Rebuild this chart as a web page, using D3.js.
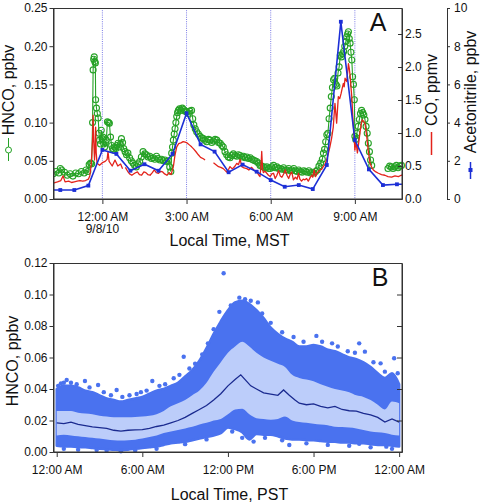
<!DOCTYPE html>
<html><head><meta charset="utf-8">
<script src="https://cdn.jsdelivr.net/npm/d3@7"></script>
<style>
body{margin:0;background:#fff}
svg{display:block}
text{font-family:"Liberation Sans",Arial,Helvetica,sans-serif;fill:#111}
</style></head><body>
<svg id="c" width="482" height="504"></svg>
<script>
// ---------------- Panel A data (hours relative to 12:00 AM 9/8/10, MST) ----------------
const topTickHours = [0, 3, 6, 9];
const topTickLabels = ["12:00 AM", "3:00 AM", "6:00 AM", "9:00 AM"];
const topSubLabel = "9/8/10";
const hncoTicks = [0, 0.05, 0.10, 0.15, 0.20, 0.25];
const coTicks = [0, 0.5, 1.0, 1.5, 2.0, 2.5];
const acnTicks = [0, 2, 4, 6, 8, 10];

// HNCO (ppbv), null = gap
const hncoHours = [-1.75,-1.65,-1.55,-1.5,-1.45,-1.35,-1.25,-1.15,-1.05,-0.95,-0.85,-0.75,-0.65,-0.58,-0.52,-0.47,-0.42,-0.38,-0.35,-0.33,-0.31,-0.29,-0.27,-0.25,-0.24,-0.21,-0.18,-0.15,-0.12,-0.10,-0.07,-0.04,-0.01,0.02,0.05,0.08,0.11,0.14,0.18,0.22,0.25,0.29,0.33,0.36,0.40,0.44,0.48,0.52,0.56,0.60,0.64,0.68,0.72,0.76,0.81,0.86,0.91,0.97,1.03,1.09,1.15,1.21,1.27,1.33,1.39,1.45,1.51,1.57,1.63,1.69,1.75,1.81,1.87,1.93,1.99,2.05,2.11,2.17,2.23,2.29,2.35,2.40,2.44,2.47,2.50,2.53,2.56,2.59,2.62,2.65,2.68,2.71,2.75,2.80,2.85,2.90,2.95,3.01,3.06,3.12,3.18,3.22,3.26,3.31,3.36,3.42,3.48,3.54,3.60,3.66,3.72,3.78,3.84,3.90,3.96,4.02,4.08,4.14,4.20,4.26,4.31,4.37,4.43,4.49,4.55,4.61,4.67,4.73,4.79,4.85,4.91,4.97,5.03,5.09,5.15,5.21,5.27,5.33,5.38,5.44,5.50,5.56,5.62,5.68,5.74,5.80,5.86,5.92,5.98,6.04,6.10,6.16,6.22,6.28,6.34,6.40,6.46,6.52,6.58,6.64,6.70,6.76,6.82,6.88,6.94,7.00,7.06,7.12,7.18,7.24,7.30,7.36,7.42,7.48,7.54,7.60,7.66,7.72,7.78,7.84,7.88,7.92,7.96,8.00,8.04,8.08,8.12,8.16,8.20,8.24,8.28,8.32,8.36,8.40,8.44,8.48,8.52,8.56,8.60,8.64,8.68,8.71,8.74,8.77,8.80,8.83,8.86,8.89,8.92,8.95,8.98,9.00,9.03,9.07,9.12,9.16,9.20,9.24,9.28,9.32,9.36,9.40,9.44,9.48,9.52,9.56,9.60,9.90,10.18,10.24,10.30,10.36,10.42,10.48,10.54,10.60,10.66];
const hncoVals = [0.033,0.036,0.034,0.040,0.038,0.035,0.031,0.033,0.030,0.034,0.033,0.036,0.034,0.038,0.036,0.045,0.047,0.046,0.100,0.169,0.183,0.186,0.180,0.178,0.130,0.119,0.112,0.106,0.086,0.077,0.072,0.090,0.079,0.081,0.072,0.068,0.074,0.077,0.101,0.100,0.099,0.081,0.070,0.066,0.064,0.068,0.066,0.070,0.073,0.068,0.072,0.079,0.074,0.066,0.062,0.058,0.060,0.054,0.050,0.047,0.044,0.042,0.046,0.049,0.055,0.062,0.059,0.058,0.055,0.056,0.053,0.054,0.052,0.056,0.053,0.051,0.052,0.050,0.051,0.049,0.050,0.042,0.036,0.060,0.068,0.077,0.085,0.092,0.100,0.108,0.113,0.116,0.118,0.116,0.119,0.117,0.115,0.114,0.112,0.115,0.116,0.105,0.097,0.092,0.088,0.085,0.082,0.080,0.079,0.077,0.075,0.078,0.077,0.074,0.076,0.078,0.077,0.074,0.073,0.070,0.068,0.062,0.058,0.055,0.054,0.057,0.059,0.057,0.056,0.058,0.057,0.055,0.056,0.054,0.055,0.053,0.054,0.052,0.051,0.050,0.049,0.047,0.044,0.043,0.042,0.041,0.042,0.040,0.040,0.042,0.044,0.041,0.042,0.040,0.040,0.039,0.041,0.038,0.038,0.040,0.037,0.038,0.040,0.037,0.036,0.038,0.036,0.035,0.037,0.036,0.035,0.037,0.034,0.035,0.034,0.036,0.038,0.043,0.047,0.052,0.060,0.065,0.075,0.084,0.086,0.105,0.119,0.134,0.146,0.156,0.158,0.150,0.148,0.165,0.173,0.188,0.186,0.190,0.193,0.200,0.206,0.212,0.216,0.219,0.210,0.204,0.192,0.182,0.160,0.150,0.130,0.082,0.078,0.086,0.095,0.104,0.112,0.116,0.113,0.110,0.104,0.095,0.086,0.073,0.062,0.051,0.044,null,0.040,0.043,0.042,0.040,0.042,0.044,0.041,0.043,0.044];

// CO (ppmv), null = gap
const coHours = [-1.75,-1.6,-1.48,-1.40,-1.33,-1.2,-1.1,-1.0,-0.9,-0.8,-0.7,-0.6,-0.5,-0.45,-0.40,-0.35,-0.33,-0.31,-0.28,-0.26,-0.24,-0.22,-0.19,-0.10,0.0,0.10,0.17,0.20,0.24,0.35,0.45,0.55,0.65,0.72,0.77,0.82,0.90,0.97,1.05,1.15,1.25,1.32,1.40,1.48,1.55,1.62,1.70,1.78,1.85,1.92,2.00,2.08,2.15,2.22,2.30,2.38,2.45,2.53,2.59,2.65,2.72,2.80,2.88,2.95,3.02,3.10,3.18,3.25,3.33,3.42,3.50,3.60,3.66,3.80,3.96,4.05,4.14,4.22,4.31,4.38,4.43,4.50,4.55,4.62,4.67,4.73,4.79,4.85,4.91,4.97,5.05,5.15,5.22,5.32,5.40,5.50,5.58,5.62,5.66,5.68,5.71,5.74,5.80,5.86,5.92,5.98,6.04,6.10,6.16,6.22,6.28,6.34,6.40,6.46,6.52,6.58,6.64,6.70,6.75,6.81,6.88,6.94,6.99,7.04,7.10,7.16,7.22,7.28,7.34,7.40,7.46,7.50,7.55,7.60,7.66,7.75,7.82,7.87,7.93,7.99,8.05,8.11,8.17,8.23,8.29,8.33,8.35,8.38,8.41,8.46,8.51,8.55,8.59,8.62,8.65,8.71,8.75,8.77,8.80,8.83,8.86,8.89,8.92,8.95,8.98,9.00,9.03,9.06,9.09,9.12,9.15,9.18,9.22,9.26,9.31,9.36,9.42,9.48,9.54,9.60,9.66,9.75,9.84,9.95,10.07,10.18,10.31,10.43,10.55,10.65,10.72];
const coVals = [0.24,0.26,0.28,0.35,0.26,0.27,0.25,0.26,0.27,0.28,0.27,0.28,0.30,0.35,0.51,0.89,1.27,0.90,0.59,0.75,1.09,0.70,0.54,0.51,0.55,0.57,0.60,0.72,0.57,0.50,0.59,0.50,0.53,0.46,null,0.48,0.42,0.38,0.36,0.39,0.41,0.37,0.36,0.41,0.40,0.37,0.36,0.40,0.44,0.40,0.39,0.42,0.41,0.38,0.36,0.40,0.37,0.49,0.67,0.79,0.84,0.85,0.87,0.86,0.85,0.82,0.79,0.76,0.72,0.67,0.63,0.61,0.59,null,0.55,0.52,0.49,0.48,0.46,0.43,0.41,0.45,0.49,0.46,0.47,0.50,0.54,0.52,0.60,0.49,0.47,0.46,0.44,0.48,0.44,0.41,0.36,0.34,0.55,0.72,0.45,0.40,0.42,0.39,0.36,0.34,0.38,0.39,0.31,0.36,0.43,0.35,0.33,0.38,0.44,0.36,0.31,0.38,0.41,0.29,0.33,0.30,0.39,0.30,0.27,0.30,0.29,0.31,0.27,0.32,0.36,0.33,0.44,0.34,0.40,0.44,0.45,0.49,0.52,0.59,0.68,0.79,0.92,1.09,1.45,1.25,1.15,1.35,1.55,1.52,1.60,1.68,1.75,1.70,1.83,1.78,1.95,2.05,1.98,1.87,1.70,1.55,1.30,1.09,0.90,0.74,0.85,0.80,0.70,0.79,0.90,1.00,1.12,1.20,1.18,1.15,0.96,0.72,0.54,0.48,0.44,0.41,0.39,0.37,0.36,0.34,0.33,0.35,0.34,0.36,0.36];

// Acetonitrile (ppbv), half-hourly
const acnHours = [-2.0,-1.5,-1.0,-0.5,0,0.5,1.0,1.5,2.0,2.5,3.0,3.5,4.0,4.5,5.0,5.5,6.0,6.5,7.0,7.5,8.0,8.5,9.0,9.5,10.0,10.5,11.0];
const acnVals = [0.47,0.47,0.47,0.70,2.57,2.36,1.48,1.82,1.48,2.36,4.49,2.86,2.48,1.40,1.80,1.43,0.99,0.64,0.73,0.52,1.78,9.28,3.09,1.55,0.73,0.77,0.77];

// ---------------- Panel B data (hour of day, PST) ----------------
const botTickHours = [0, 6, 12, 18, 24];
const botTickLabels = ["12:00 AM", "6:00 AM", "12:00 PM", "6:00 PM", "12:00 AM"];
const botYTicks = [0, 0.02, 0.04, 0.06, 0.08, 0.10, 0.12];
const envHours = [0,0.5,1,1.5,2,2.5,3,3.5,4,4.5,5,5.5,6,6.5,7,7.5,8,8.5,9,9.5,10,10.5,11,11.5,12,12.5,13,13.5,14,14.5,15,15.5,16,16.5,17,17.5,18,18.5,19,19.5,20,20.5,21,21.5,22,22.5,23,23.5,24];
const scatterHi = [0.040,0.042,0.042,0.041,0.039,0.038,0.036,0.034,0.033,0.032,0.033,0.034,0.035,0.037,0.039,0.040,0.042,0.044,0.048,0.052,0.058,0.066,0.075,0.083,0.090,0.095,0.096,0.094,0.090,0.085,0.079,0.075,0.072,0.070,0.067,0.067,0.068,0.067,0.065,0.064,0.062,0.060,0.059,0.057,0.054,0.050,0.047,0.050,0.043];
const bandHi = [0.026,0.026,0.026,0.025,0.0245,0.024,0.023,0.0225,0.022,0.022,0.022,0.0222,0.0225,0.023,0.024,0.026,0.029,0.031,0.033,0.036,0.039,0.044,0.051,0.057,0.063,0.067,0.070,0.067,0.063,0.060,0.058,0.056,0.054,0.049,0.047,0.046,0.045,0.043,0.0415,0.040,0.039,0.038,0.036,0.035,0.033,0.030,0.027,0.032,0.031];
const bandLo = [0.0105,0.011,0.0105,0.010,0.0095,0.009,0.0085,0.008,0.0075,0.0073,0.0075,0.0078,0.0085,0.0095,0.0105,0.012,0.013,0.014,0.015,0.016,0.0175,0.0185,0.020,0.021,0.024,0.027,0.0275,0.024,0.0215,0.021,0.0205,0.021,0.0225,0.020,0.019,0.0185,0.018,0.0175,0.017,0.016,0.0158,0.0155,0.015,0.014,0.013,0.0125,0.012,0.011,0.0105];
const scatterLo = [0.004,0.0035,0.0035,0.003,0.003,0.0025,0.002,0.0018,0.0015,0.0013,0.0015,0.002,0.0025,0.003,0.0035,0.0045,0.0055,0.006,0.0065,0.0075,0.0085,0.0095,0.0105,0.012,0.0155,0.0145,0.0125,0.008,0.0115,0.011,0.011,0.010,0.0085,0.008,0.008,0.0075,0.0075,0.007,0.0065,0.0065,0.006,0.006,0.0055,0.0055,0.005,0.0045,0.0045,0.004,0.0035];
const medHours = [0,0.5,1,1.5,2,2.5,3,3.5,4,4.5,5,5.5,6,6.5,7,7.5,8,8.5,9,9.5,10,10.5,11,11.5,12,12.5,12.9,13.3,13.6,14,14.5,15,15.5,15.9,16.3,16.7,17,17.5,18,18.5,19,19.5,20,20.5,21,21.5,22,22.5,23,23.5,24];
const medVals = [0.0185,0.018,0.019,0.0175,0.0168,0.016,0.0155,0.015,0.0138,0.0133,0.0138,0.014,0.0142,0.015,0.0162,0.017,0.0185,0.020,0.022,0.0245,0.027,0.0295,0.033,0.037,0.042,0.046,0.049,0.045,0.042,0.040,0.0375,0.0368,0.036,0.0394,0.036,0.033,0.031,0.030,0.0305,0.029,0.028,0.029,0.027,0.0262,0.026,0.0245,0.0235,0.022,0.019,0.021,0.019];
// individual points outside the dense cloud
const outHours = [0.3,0.7,1.98,2.9,4.2,5.6,6.7,8.2,8.9,11.4,11.7,13.6,14.1,18.2,19.3,21.2,21.6,22.7,23.65,2.8,13.8,16.3,21.2,23.1,
  0.1,0.5,1.0,1.4,2.3,3.3,3.8,4.6,5.1,5.9,6.3,7.2,7.6,8.6,9.3,9.7,10.2,10.6,11.0,12.2,12.8,13.2,14.4,15.0,15.8,16.6,17.3,18.6,19.7,20.4,20.9,22.2,23.0,23.9,
  0.5,1.5,3.5,4.5,5.5,7.0,9.0,10.5,12.3,13.0,14.6,15.8,17.5,19.0,20.5,22.0,23.5];
const outVals = [0.0436,0.0457,0.0451,0.0425,0.0394,0.0368,0.0451,0.0468,0.0605,0.089,0.1135,0.096,0.095,0.0737,0.069,0.069,0.0637,0.0563,0.0595,0.0013,0.0066,0.0044,0.0052,0.0034,
  0.042,0.044,0.044,0.043,0.041,0.038,0.036,0.035,0.036,0.038,0.039,0.042,0.043,0.049,0.053,0.056,0.062,0.069,0.078,0.093,0.098,0.097,0.088,0.082,0.076,0.073,0.070,0.070,0.067,0.064,0.063,0.057,0.051,0.050,
  0.002,0.0015,0.0008,0.0005,0.001,0.002,0.005,0.008,0.013,0.009,0.009,0.0075,0.0055,0.0045,0.004,0.003,0.002];

// ---------------- Drawing ----------------
const svg = d3.select("#c");
const C = {green:"#26a226", red:"#e3231b", blue:"#1c2fd6", dot:"#5a5ae0", frame:"#333",
           scat:"#4a72ef", band:"#bccdfa", med:"#1a2a8f"};
const TA = {l:53, r:402, t:8, b:199};
const TB = {l:53, r:402, t:263, b:452};

const xA = d3.scaleLinear().domain([-1.76, 10.68]).range([TA.l, TA.r]);
const yH = d3.scaleLinear().domain([0, 0.25]).range([TA.b, TA.t]);
const yCO = d3.scaleLinear().domain([0, 2.894]).range([TA.b, TA.t]);
const yAc = d3.scaleLinear().domain([0, 10]).range([TA.b, TA.t]);

const xB = d3.scaleLinear().domain([-0.26, 24.2]).range([TB.l, TB.r]);
const yB = d3.scaleLinear().domain([0, 0.12]).range([TB.b, TB.t]);

const defs = svg.append("defs");
defs.append("clipPath").attr("id","clipA").append("rect")
  .attr("x",TA.l).attr("y",TA.t-4).attr("width",TA.r-TA.l+3).attr("height",TA.b-TA.t+8);
defs.append("clipPath").attr("id","clipA2").append("rect")
  .attr("x",TA.l).attr("y",TA.t).attr("width",TA.r-TA.l).attr("height",TA.b-TA.t);

function styleAxis(g, fs){
  g.selectAll(".domain").attr("stroke", C.frame);
  g.selectAll(".tick line").attr("stroke", C.frame);
  g.selectAll(".tick text").attr("fill","#111").style("font-size", fs+"px")
    .style("font-family",'"Liberation Sans",Arial,sans-serif');
}

// ---- Panel A ----
const gA = svg.append("g");
gA.selectAll("line.vg").data(topTickHours).enter().append("line")
  .attr("x1", d=>xA(d)).attr("x2", d=>xA(d)).attr("y1", TA.t).attr("y2", TA.b)
  .attr("stroke", C.dot).attr("stroke-width", 0.8).attr("stroke-dasharray","1,1.2");

const hncoData = hncoHours.map((h,i)=>({h, v:hncoVals[i]}));
const coData = coHours.map((h,i)=>({h, v:coVals[i]}));
const acnData = acnHours.map((h,i)=>({h, v:acnVals[i]}));

const dA = gA.append("g").attr("clip-path","url(#clipA)");
dA.append("path").datum(hncoData)
  .attr("d", d3.line().defined(d=>d.v!=null).x(d=>xA(d.h)).y(d=>yH(d.v)))
  .attr("fill","none").attr("stroke",C.green).attr("stroke-width",1.1);
dA.selectAll("circle.h").data(hncoData.filter(d=>d.v!=null)).enter().append("circle")
  .attr("cx",d=>xA(d.h)).attr("cy",d=>yH(d.v)).attr("r",3)
  .attr("fill","none").attr("stroke",C.green).attr("stroke-width",1.1);
const dA2 = gA.append("g").attr("clip-path","url(#clipA2)");
dA2.append("path").datum(coData)
  .attr("d", d3.line().defined(d=>d.v!=null).x(d=>xA(d.h)).y(d=>yCO(d.v)))
  .attr("fill","none").attr("stroke",C.red).attr("stroke-width",1.3).attr("stroke-linejoin","round");
dA2.append("path").datum(acnData)
  .attr("d", d3.line().x(d=>xA(d.h)).y(d=>yAc(d.v)))
  .attr("fill","none").attr("stroke",C.blue).attr("stroke-width",1.6);
dA2.selectAll("rect.a").data(acnData).enter().append("rect")
  .attr("x",d=>xA(d.h)-1.9).attr("y",d=>yAc(d.v)-1.9).attr("width",3.8).attr("height",3.8)
  .attr("fill",C.blue);

gA.append("rect").attr("x",TA.l+0.5).attr("y",TA.t+0.5).attr("width",TA.r-TA.l-0.5).attr("height",TA.b-TA.t-0.5)
  .attr("fill","none").attr("stroke",C.frame).attr("stroke-width",1);

const axL = gA.append("g").attr("transform",`translate(${TA.l+0.5},0)`)
  .call(d3.axisLeft(yH).tickValues(hncoTicks).tickFormat(d3.format(".2f")).tickSize(4).tickPadding(2).tickSizeOuter(0));
styleAxis(axL, 12);
const axB = gA.append("g").attr("transform",`translate(0,${TA.b})`)
  .call(d3.axisBottom(xA).tickValues(topTickHours).tickFormat((d,i)=>topTickLabels[i]).tickSize(5).tickPadding(8).tickSizeOuter(0));
styleAxis(axB, 12);
gA.append("text").attr("x", xA(0)).attr("y", 233).attr("text-anchor","middle").style("font-size","12px").text(topSubLabel);
const axCO = gA.append("g").attr("transform",`translate(${TA.r},0)`)
  .call(d3.axisRight(yCO).tickValues(coTicks).tickFormat(d3.format(".1f")).tickSize(-4).tickPadding(3).tickSizeOuter(0));
styleAxis(axCO, 12);
const axAc = gA.append("g").attr("transform",`translate(447,0)`)
  .call(d3.axisRight(yAc).tickValues(acnTicks).tickFormat(d3.format("d")).tickSize(3).tickPadding(4).tickSizeOuter(0));
styleAxis(axAc, 12);

gA.append("text").attr("x",(TA.l+TA.r)/2+2).attr("y",246).attr("text-anchor","middle").style("font-size","16px").text("Local Time, MST");
gA.append("text").attr("transform","translate(14,90) rotate(-90)").attr("text-anchor","middle").style("font-size","16px").text("HNCO, ppbv");
gA.append("line").attr("x1",8.5).attr("x2",8.5).attr("y1",138).attr("y2",161).attr("stroke",C.green).attr("stroke-width",1);
gA.append("circle").attr("cx",8.5).attr("cy",150).attr("r",3).attr("fill","#fff").attr("stroke",C.green).attr("stroke-width",1);
gA.append("text").attr("transform","translate(437,90) rotate(-90)").attr("text-anchor","middle").style("font-size","16px").text("CO, ppmv");
gA.append("line").attr("x1",431.5).attr("x2",431.5).attr("y1",132).attr("y2",155).attr("stroke",C.red).attr("stroke-width",1.5);
gA.append("text").attr("transform","translate(476,92) rotate(-90)").attr("text-anchor","middle").style("font-size","16px").text("Acetonitrile, ppbv");
gA.append("line").attr("x1",470.5).attr("x2",470.5).attr("y1",162).attr("y2",179).attr("stroke",C.blue).attr("stroke-width",1.5);
gA.append("rect").attr("x",468.5).attr("y",168).attr("width",4).attr("height",4).attr("fill",C.blue);
gA.append("text").attr("x",378).attr("y",31).attr("text-anchor","middle").style("font-size","25px").text("A");

// ---- Panel B ----
const gB = svg.append("g");
const envData = envHours.map((h,i)=>({h, hi:scatterHi[i], lo:scatterLo[i], bh:bandHi[i], bl:bandLo[i]}));
gB.append("path").datum(envData)
  .attr("d", d3.area().x(d=>xB(d.h)).y0(d=>yB(d.lo)).y1(d=>yB(d.hi)).curve(d3.curveMonotoneX))
  .attr("fill",C.scat).attr("stroke",C.scat).attr("stroke-width",2.5).attr("stroke-linejoin","round");
gB.selectAll("circle.o").data(outHours.map((h,i)=>({h, v:outVals[i]}))).enter().append("circle")
  .attr("cx",d=>xB(d.h)).attr("cy",d=>yB(d.v)).attr("r",2.2).attr("fill",C.scat);
gB.append("path").datum(envData)
  .attr("d", d3.area().x(d=>xB(d.h)).y0(d=>yB(d.bl)).y1(d=>yB(d.bh)).curve(d3.curveMonotoneX))
  .attr("fill",C.band);
gB.append("path").datum(medHours.map((h,i)=>({h, v:medVals[i]})))
  .attr("d", d3.line().x(d=>xB(d.h)).y(d=>yB(d.v)))
  .attr("fill","none").attr("stroke",C.med).attr("stroke-width",1.3);

gB.append("rect").attr("x",TB.l+0.5).attr("y",TB.t+0.5).attr("width",TB.r-TB.l-0.5).attr("height",TB.b-TB.t-0.5)
  .attr("fill","none").attr("stroke",C.frame).attr("stroke-width",1);
const bL = gB.append("g").attr("transform",`translate(${TB.l+0.5},0)`)
  .call(d3.axisLeft(yB).tickValues(botYTicks).tickFormat(d3.format(".2f")).tickSize(4).tickPadding(2).tickSizeOuter(0));
styleAxis(bL, 12);
const bR = gB.append("g").attr("transform",`translate(${TB.r},0)`)
  .call(d3.axisRight(yB).tickValues(botYTicks).tickFormat("").tickSize(-5).tickSizeOuter(0));
styleAxis(bR, 12);
const bB = gB.append("g").attr("transform",`translate(0,${TB.b})`)
  .call(d3.axisBottom(xB).tickValues(botTickHours).tickFormat((d,i)=>botTickLabels[i]).tickSize(5).tickPadding(8).tickSizeOuter(0));
styleAxis(bB, 12);
gB.append("text").attr("x",(TB.l+TB.r)/2+2).attr("y",500).attr("text-anchor","middle").style("font-size","16px").text("Local Time, PST");
gB.append("text").attr("transform","translate(18,361) rotate(-90)").attr("text-anchor","middle").style("font-size","16px").text("HNCO, ppbv");
gB.append("text").attr("x",380).attr("y",286).attr("text-anchor","middle").style("font-size","25px").text("B");
</script>
</body></html>
